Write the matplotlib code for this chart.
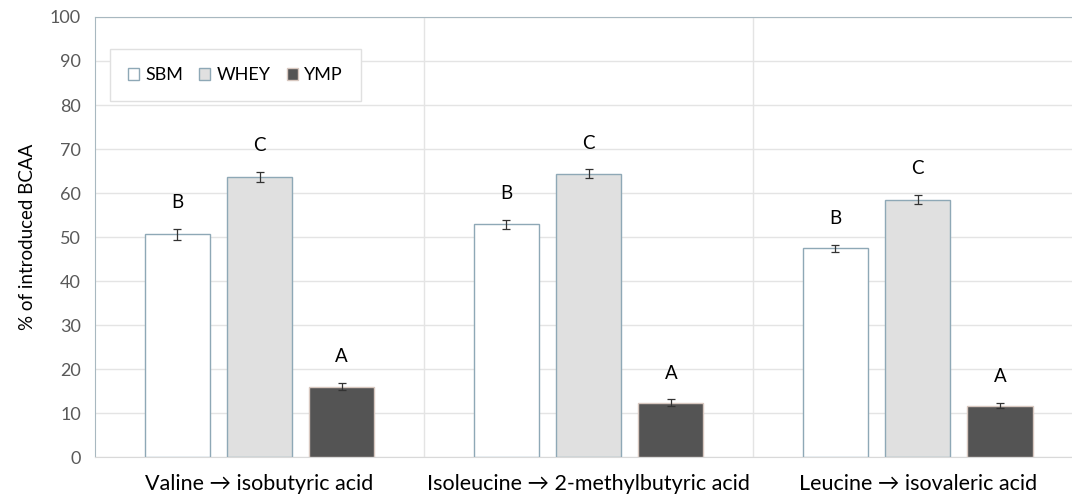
import numpy as np
import matplotlib.pyplot as plt

plt.rcParams['font.family'] = ['Lato', 'DejaVu Sans']

# data
categories = ['Valine \u2192 isobutyric acid',
              'Isoleucine \u2192 2-methylbutyric acid',
              'Leucine \u2192 isovaleric acid']
series = ['SBM', 'WHEY', 'YMP']
sbm = [50.6, 52.9, 47.4]
whey = [63.7, 64.4, 58.5]
ymp = [16.0, 12.3, 11.7]
sbm_err = [1.3, 1.0, 0.8]
whey_err = [1.1, 1.0, 1.1]
ymp_err = [0.8, 0.8, 0.6]
letters = [['B', 'B', 'B'], ['C', 'C', 'C'], ['A', 'A', 'A']]

values = [sbm, whey, ymp]
errors = [sbm_err, whey_err, ymp_err]
faces = ['white', '#e0e0e0', '#545454']
edges = ['#8ea8b6', '#8ea8b6', '#d8c8c0']

fig = plt.figure(figsize=(10.72, 5.0), dpi=100)
ax = fig.add_axes([0.0886, 0.086, 0.921, 0.88])

x = np.arange(len(categories))
offsets = [-0.25, 0.0, 0.25]
width = 0.198

for i in range(3):
    ax.bar(x + offsets[i], values[i], width, color=faces[i], edgecolor=edges[i],
           linewidth=1.0, label=series[i], zorder=3)
    ax.errorbar(x + offsets[i], values[i], yerr=errors[i], fmt='none',
                ecolor='#333333', elinewidth=0.9, capsize=3, capthick=0.9, zorder=4)
    for j in range(3):
        top = values[i][j] + errors[i][j]
        ax.text(x[j] + offsets[i], top + 4.0, letters[i][j], ha='center', va='bottom',
                fontsize=13.5, color='black')

ax.set_xlim(-0.5, 2.5)
ax.set_ylim(0, 100)
ax.set_yticks(np.arange(0, 101, 10))
ax.set_xticks(x)
ax.set_xticklabels(categories, fontsize=15.5)
ax.tick_params(axis='x', length=0, pad=12)
ax.tick_params(axis='y', length=0, pad=10, labelsize=13, labelcolor='#595959')

ax.yaxis.grid(True, color='#e4e4e4', linewidth=1.0, zorder=0)
for b in [0.5, 1.5]:
    ax.axvline(b, color='#e4e4e4', linewidth=1.0, zorder=0)

ax.spines['left'].set_color('#a8b8c0')
ax.spines['top'].set_color('#a8b8c0')
ax.spines['bottom'].set_color('#d9d9d9')
ax.spines['right'].set_visible(False)

ax.set_ylabel('% of introduced BCAA', fontsize=13.5, labelpad=10)

leg = ax.legend(loc='upper left', bbox_to_anchor=(0.0152, 0.927), borderaxespad=0,
                ncol=3, fontsize=13, handlelength=0.6, handleheight=0.6,
                handletextpad=0.35, columnspacing=0.9, borderpad=1.0,
                fancybox=False, framealpha=1)
leg.get_frame().set_edgecolor('#e0e0e0')
leg.get_frame().set_linewidth(1.0)

fig.savefig('out.png', dpi=100)
